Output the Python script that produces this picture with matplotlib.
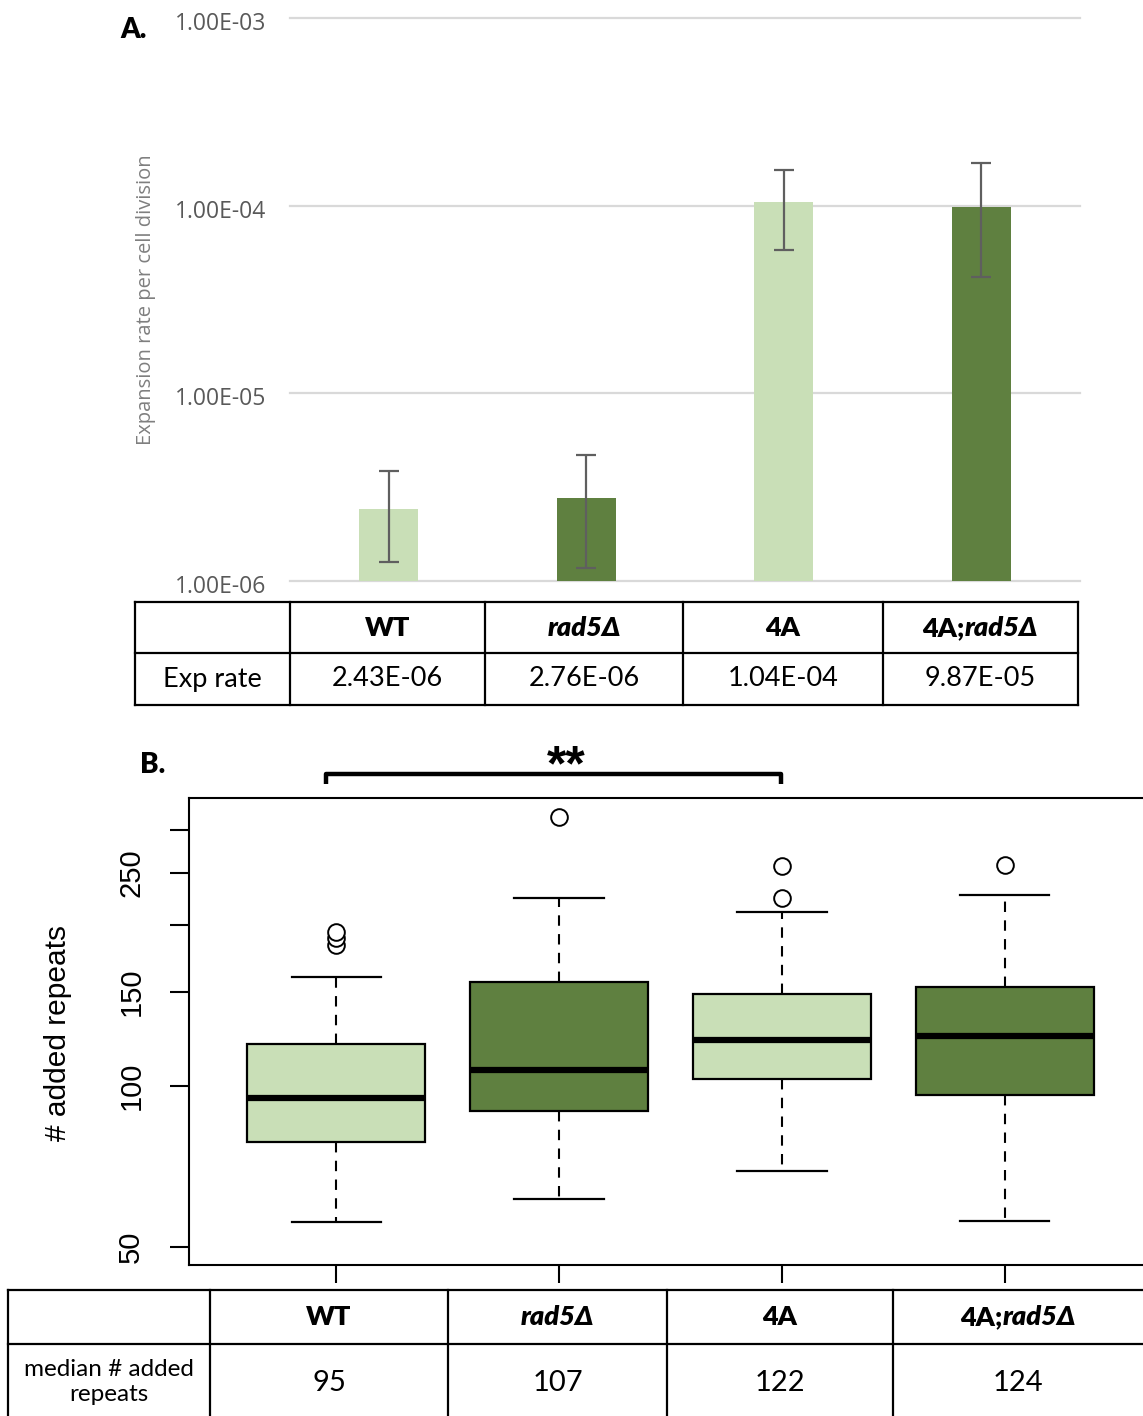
import matplotlib
matplotlib.use('Agg')
import matplotlib.pyplot as plt
from matplotlib.transforms import offset_copy

W, H = 1143, 1416

# ---- data ----
strains = ['WT', 'rad5Δ', '4A', '4A;rad5Δ']
exp_rate = [2.43e-6, 2.76e-6, 1.04e-4, 9.87e-5]
err_low = [1.26e-6, 1.17e-6, 5.77e-5, 4.19e-5]
err_high = [3.85e-6, 4.68e-6, 1.55e-4, 1.69e-4]
exp_rate_labels = ['2.43E-06', '2.76E-06', '1.04E-04', '9.87E-05']
rate_ticks = [1e-6, 1e-5, 1e-4, 1e-3]
rate_tick_labels = ['1.00E-06', '1.00E-05', '1.00E-04', '1.00E-03']

box_whislo = [55.7, 61.5, 69.4, 56.0]
box_q1 = [78.6, 89.8, 103.0, 96.2]
box_med = [95, 107, 122, 124]
box_q3 = [119.8, 156.5, 148.6, 153.0]
box_whishi = [160, 224, 211, 227.5]
box_fliers = [[183, 189, 194], [318], [224.5, 257], [259]]
repeat_ticks = [50, 100, 150, 200, 250, 300]
repeat_tick_labels = ['50', '100', '150', '', '250', '']

LIGHT = '#c9dfb7'
DARK = '#5f8040'
colors = [LIGHT, DARK, LIGHT, DARK]
TFONT = ['Lato', 'DejaVu Sans']
BOLD = 'heavy'


def rect(l, t, r, b):
    return [l / W, 1 - b / H, (r - l) / W, (b - t) / H]


fig = plt.figure(figsize=(W / 100, H / 100), dpi=100)

# ---- panel A: bar chart ----
ax = fig.add_axes(rect(290, 18, 1080, 581))
x = list(range(len(strains)))
yerr = [[v - lo for v, lo in zip(exp_rate, err_low)],
        [hi - v for v, hi in zip(exp_rate, err_high)]]
ax.set_yscale('log')
ax.bar(x, [v - 1e-6 for v in exp_rate], bottom=1e-6, width=0.3, color=colors, zorder=2)
ax.errorbar(x, exp_rate, yerr=yerr, fmt='none', ecolor='#5f5f5f', elinewidth=1.6,
            capsize=7, capthick=1.6, zorder=3)
for t in rate_ticks:
    ax.axhline(t, color='#d9d9d9', lw=1.6, zorder=1, clip_on=False)
ax.set_xlim(-0.5, 3.5)
ax.set_ylim(1e-6, 1e-3)
ax.set_yticks(rate_ticks, rate_tick_labels)
ax.minorticks_off()
ax.set_xticks([])
ax.tick_params(axis='y', length=0, pad=17, labelsize=16.5, labelcolor='#595959')
for s in ax.spines.values():
    s.set_visible(False)
ax.set_ylabel('Expansion rate per cell division', fontsize=14.5, color='#7f7f7f',
              family='Open Sans')
ax.yaxis.set_label_coords(-0.17, 0.5)

# ---- panel B: box plot ----
bx = fig.add_axes(rect(189, 798, 1152, 1265))
stats = []
for i in range(len(strains)):
    stats.append(dict(med=box_med[i], q1=box_q1[i], q3=box_q3[i],
                      whislo=box_whislo[i], whishi=box_whishi[i],
                      fliers=box_fliers[i], label=strains[i]))
bp = bx.bxp(stats, positions=[1, 2, 3, 4], widths=0.8, patch_artist=True,
            showfliers=True, capwidths=0.4,
            boxprops=dict(edgecolor='black', linewidth=1.6),
            medianprops=dict(color='black', linewidth=4.5, solid_capstyle='butt'),
            whiskerprops=dict(color='black', linewidth=1.5, linestyle=(0, (5, 4))),
            capprops=dict(color='black', linewidth=1.6),
            flierprops=dict(marker='o', markerfacecolor='white', markeredgecolor='black',
                            markersize=12, markeredgewidth=1.4))
for patch, c in zip(bp['boxes'], colors):
    patch.set_facecolor(c)
bx.set_yscale('log')
bx.set_xlim(0.34, 4.66)
bx.set_ylim(46.3, 345)
bx.minorticks_off()
bx.set_yticks(repeat_ticks, repeat_tick_labels)
bx.set_xticks([1, 2, 3, 4], ['', '', '', ''])
bx.tick_params(axis='y', length=13.5, width=1.5, pad=18, labelsize=21, labelrotation=90)
bx.tick_params(axis='x', length=13, width=1.5)
for lab in bx.get_yticklabels():
    lab.set_family('Liberation Sans')
    lab.set_va('center')
for s in bx.spines.values():
    s.set_linewidth(1.5)
bx.set_ylabel('# added repeats', fontsize=21.5, family='Liberation Sans')
bx.yaxis.set_label_coords(-0.121, 0.497)

# ---- overlay for tables and annotations ----
ov = fig.add_axes([0, 0, 1, 1], facecolor='none')
ov.set_xlim(0, W)
ov.set_ylim(H, 0)
ov.axis('off')
renderer = fig.canvas.get_renderer()

# panel A tick labels sit slightly below their gridlines (Excel style)
fig.canvas.draw()
for lab in ax.get_yticklabels():
    lab.set_family('Open Sans')
    lab.set_transform(offset_copy(lab.get_transform(), fig=fig, x=0, y=-3, units='dots'))


def strain_text(xc, yc, name, size):
    if 'rad5' in name:
        i = name.index('rad5')
        parts = [(name[:i], 'normal'), (name[i:], 'italic')]
    else:
        parts = [(name, 'normal')]
    texts = []
    for s, st in parts:
        if s:
            texts.append(ov.text(0, yc, s, fontsize=size, fontweight=BOLD, style=st,
                                 ha='left', va='center', family=TFONT))
    widths = [t.get_window_extent(renderer).width for t in texts]
    x0 = xc - sum(widths) / 2
    for t, w in zip(texts, widths):
        t.set_x(x0)
        x0 += w


lk = dict(color='black', lw=1.6, solid_capstyle='projecting')

# table A
colsA = [135, 290, 485, 683, 883, 1078]
rowsA = [602, 653, 705]
for yy in rowsA:
    ov.plot([colsA[0], colsA[-1]], [yy, yy], **lk)
for xx in colsA:
    ov.plot([xx, xx], [rowsA[0], rowsA[-1]], **lk)
ov.text((colsA[0] + colsA[1]) / 2, 679, 'Exp rate', fontsize=19.5, ha='center', va='center',
        family=TFONT)
for i, name in enumerate(strains):
    xc = (colsA[i + 1] + colsA[i + 2]) / 2
    strain_text(xc, 628, name, 19.5)
    ov.text(xc, 679, exp_rate_labels[i], fontsize=19.5, ha='center', va='center', family=TFONT)

# table B
colsB = [8, 210, 448, 667, 893, 1143]
rowsB = [1290, 1344]
for yy in rowsB:
    ov.plot([colsB[0], W + 5], [yy, yy], **lk)
for xx in colsB[:-1]:
    ov.plot([xx, xx], [rowsB[0], H + 5], **lk)
ov.text((colsB[0] + colsB[1]) / 2, 1382, 'median # added\nrepeats', fontsize=17.5,
        ha='center', va='center', family=TFONT, linespacing=1.2)
for i, name in enumerate(strains):
    xc = (colsB[i + 1] + colsB[i + 2]) / 2
    strain_text(xc, 1317, name, 19.5)
    ov.text(xc, 1383, str(box_med[i]), fontsize=21, ha='center', va='center', family=TFONT)

# significance bracket
ov.plot([326, 326, 781, 781], [784, 774, 774, 784], color='black', lw=3.2,
        solid_joinstyle='round', solid_capstyle='butt')
ov.text(566, 767, '**', fontsize=36, fontweight='bold', ha='center', va='center',
        family='Liberation Sans')

# panel labels
ov.text(120, 30, 'A.', fontsize=20, fontweight=BOLD, ha='left', va='center', family=TFONT)
ov.text(140, 765, 'B.', fontsize=20, fontweight=BOLD, ha='left', va='center', family=TFONT)

fig.savefig('out.png', dpi=100)
